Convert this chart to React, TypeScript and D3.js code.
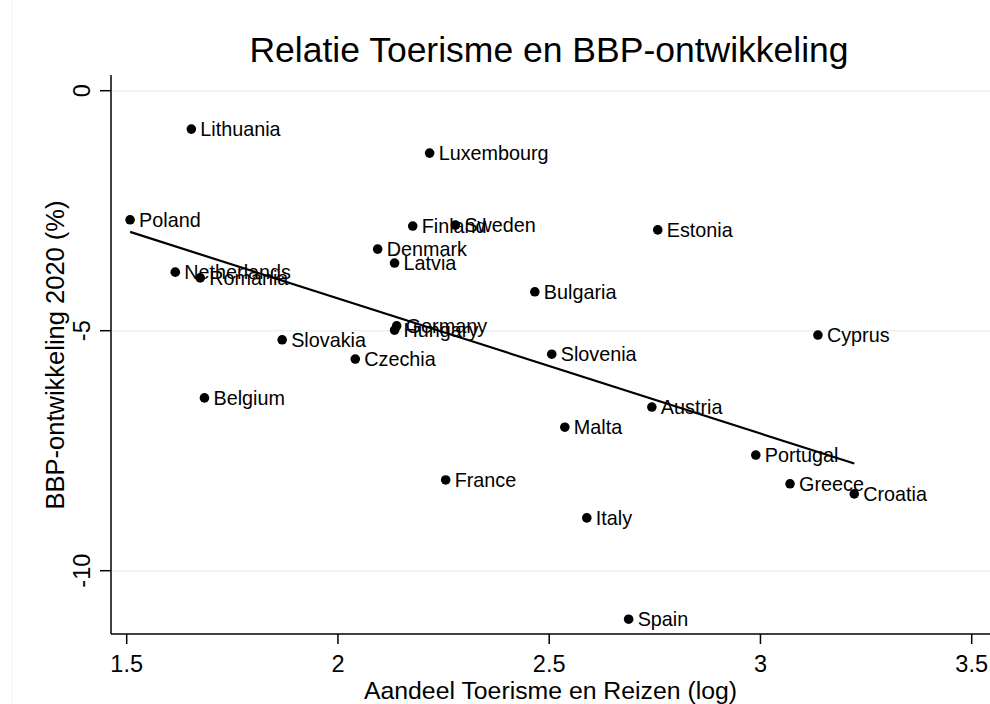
import React from "react";
import * as d3 from "d3";

const countries = ["Lithuania","Luxembourg","Poland","Finland","Sweden","Estonia","Denmark","Latvia","Netherlands","Romania","Bulgaria","Germany","Hungary","Slovakia","Cyprus","Slovenia","Czechia","Belgium","Austria","Malta","Portugal","France","Greece","Croatia","Italy","Spain"];
const tourismLog = [1.653,2.217,1.508,2.177,2.278,2.757,2.094,2.134,1.615,1.674,2.466,2.139,2.134,1.868,3.136,2.506,2.041,1.684,2.743,2.537,2.989,2.255,3.070,3.222,2.589,2.688];
const gdpGrowth = [-0.80,-1.30,-2.69,-2.82,-2.80,-2.90,-3.30,-3.59,-3.78,-3.90,-4.19,-4.90,-4.99,-5.19,-5.09,-5.49,-5.59,-6.40,-6.59,-7.01,-7.59,-8.11,-8.19,-8.40,-8.90,-11.01];
const xTicks = [1.5, 2, 2.5, 3, 3.5];
const yTicks = [0, -5, -10];
const title = "Relatie Toerisme en BBP-ontwikkeling";
const xTitle = "Aandeel Toerisme en Reizen (log)";
const yTitle = "BBP-ontwikkeling 2020 (%)";

const W = 990, H = 704;
const FONT = "'Liberation Sans', Arial, Helvetica, sans-serif";

export default function App() {
  const plotLeft = 111, plotRight = 990, plotTop = 75, plotBottom = 634;
  const x = d3.scaleLinear().domain([1.5, 3.5]).range([126.7, 971.7]);
  const y = d3.scaleLinear().domain([0, -10]).range([90.7, 570.7]);

  const pts = countries.map((c, i) => ({ c, x: tourismLog[i], y: gdpGrowth[i] }));
  const mx = d3.mean(pts, p => p.x)!;
  const my = d3.mean(pts, p => p.y)!;
  const sxy = d3.sum(pts, p => (p.x - mx) * (p.y - my));
  const sxx = d3.sum(pts, p => (p.x - mx) ** 2);
  const b = sxy / sxx;
  const a = my - b * mx;
  const [xmin, xmax] = d3.extent(pts, p => p.x) as [number, number];
  const fitLine = d3.line<number>().x(v => x(v)).y(v => y(a + b * v));

  return (
    <svg width={W} height={H} style={{ position: "absolute", left: 0, top: 0, background: "#fff" }} fontFamily={FONT}>
      <rect x={0} y={0} width={W} height={H} fill="#fff" />
      <line x1={12} x2={12} y1={0} y2={H} stroke="#f0f0f0" strokeWidth={1} />
      <text x={549} y={62} textAnchor="middle" fontSize={35.5} fill="#000">{title}</text>
      {yTicks.map(t => (
        <line key={"g" + t} x1={plotLeft} x2={plotRight} y1={y(t)} y2={y(t)} stroke="#eaf2f3" strokeWidth={1.5} />
      ))}
      <line x1={plotLeft} x2={plotLeft} y1={plotTop} y2={plotBottom} stroke="#000" strokeWidth={1.5} />
      <line x1={plotLeft} x2={plotRight} y1={plotBottom} y2={plotBottom} stroke="#000" strokeWidth={1.5} />
      {yTicks.map(t => (
        <g key={"y" + t}>
          <line x1={plotLeft - 11} x2={plotLeft} y1={y(t)} y2={y(t)} stroke="#000" strokeWidth={1.5} />
          <text transform={`translate(90,${y(t)}) rotate(-90)`} textAnchor="middle" fontSize={23.5} fill="#000">{t < 0 ? "-" + Math.abs(t) : String(t)}</text>
        </g>
      ))}
      {xTicks.map(t => (
        <g key={"x" + t}>
          <line x1={x(t)} x2={x(t)} y1={plotBottom} y2={plotBottom + 10} stroke="#000" strokeWidth={1.5} />
          <text x={x(t)} y={672} textAnchor="middle" fontSize={23.5} fill="#000">{String(t)}</text>
        </g>
      ))}
      <text x={550.5} y={699} textAnchor="middle" fontSize={24.8} fill="#000">{xTitle}</text>
      <text transform={`translate(63.5,355) rotate(-90)`} textAnchor="middle" fontSize={25.5} fill="#000">{yTitle}</text>
      <path d={fitLine([xmin, xmax])!} stroke="#000" strokeWidth={2.2} fill="none" />
      {pts.map(p => (
        <g key={p.c}>
          <circle cx={x(p.x)} cy={y(p.y)} r={4.8} fill="#000" />
          <text x={x(p.x) + 9} y={y(p.y) + 7} fontSize={19.8} fill="#000">{p.c}</text>
        </g>
      ))}
    </svg>
  );
}
